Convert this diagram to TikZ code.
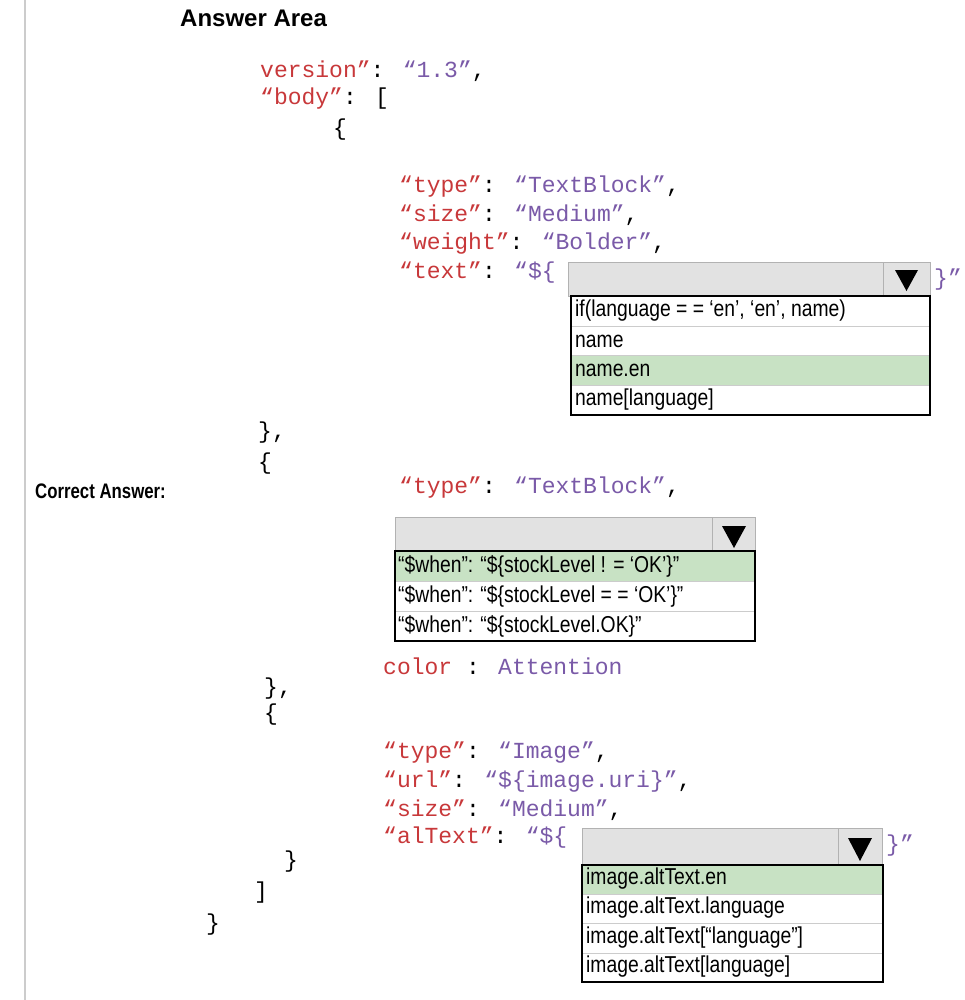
\documentclass[tikz,border=0pt]{standalone}
\usepackage{fontspec}
\setmainfont{Liberation Sans}
\newfontfamily\codefont{Liberation Mono}
\definecolor{kred}{HTML}{C8383A}
\definecolor{vpur}{HTML}{7A5AA8}
\definecolor{ddgray}{HTML}{E2E2E2}
\definecolor{selgreen}{HTML}{C8E2C4}
\begin{document}
\begin{tikzpicture}[x=1pt,y=-1pt,
  code/.style={anchor=west,inner sep=0pt,font=\codefont\fontsize{23}{23}\selectfont},
  opt/.style={anchor=west,inner sep=0pt,font=\fontsize{23}{23}\selectfont,xscale=0.84},
  ddbox/.style={draw=gray!60,fill=ddgray,line width=1pt},
  lst/.style={draw=black,line width=1.2pt},
  row/.style={draw=gray!40,line width=0.6pt}]
\useasboundingbox (0,0) rectangle (964,1000);
\fill[white] (0,0) rectangle (964,1000);
\draw[gray!40,line width=1.5pt] (25,0) -- (25,1000);
\node[anchor=west,inner sep=0pt,font=\fontsize{24}{24}\selectfont\bfseries] (title) at (180,18) {Answer Area};
\node[anchor=west,inner sep=0pt,font=\fontsize{21}{21}\selectfont\bfseries,xscale=0.8] (ca) at (35,491) {Correct Answer:};
% code
\newcommand\K[1]{\textcolor{kred}{#1}}
\newcommand\V[1]{\textcolor{vpur}{#1}}
\node[code] (l1) at (260,71) {\K{version”}: \V{“1.3”},};
\node[code] (l2) at (260,99) {\K{“body”}: [};
\node[code] (l3) at (333,130) {\{};
\node[code] (l4) at (399,187) {\K{“type”}: \V{“TextBlock”},};
\node[code] (l5) at (399,215) {\K{“size”}: \V{“Medium”},};
\node[code] (l6) at (399,244) {\K{“weight”}: \V{“Bolder”},};
\node[code] (l7) at (399,273) {\K{“text”}: \V{“\$\{}};
\node[code] (l7b) at (934,280) {\V{\}”}};
\node[code] (l8) at (258,433) {\},};
\node[code] (l9) at (258,464) {\{};
\node[code] (l10) at (399,488) {\K{“type”}: \V{“TextBlock”},};
\node[code] (l11) at (383,666) {\K{color} : \V{Attention}};
\node[code] (l12) at (264,689) {\},};
\node[code] (l13) at (264,715) {\{};
\node[code] (l14) at (383,753) {\K{“type”}: \V{“Image”},};
\node[code] (l15) at (383,782) {\K{“url”}: \V{“\$\{image.uri\}”},};
\node[code] (l16) at (383,810) {\K{“size”}: \V{“Medium”},};
\node[code] (l17) at (383,838) {\K{“alText”}: \V{“\$\{}};
\node[code] (l17b) at (886,846) {\V{\}”}};
\node[code] (l18) at (284,862) {\}};
\node[code] (l19) at (254,893) {]};
\node[code] (l20) at (206,925) {\}};
% dropdown 1
\draw[ddbox] (568,262) rectangle (930,296);
\draw[gray!60] (883,262) -- (883,296);
\fill (895,270) -- (918,270) -- (906.5,291) -- cycle;
\fill[selgreen] (571,355) rectangle (930,385);
\draw[row] (571,326) -- (930,326) (571,355) -- (930,355) (571,385) -- (930,385);
\draw[lst] (571,296) rectangle (930,415);
\node[opt] (o11) at (575,311) {if(language = = ‘en’, ‘en’, name)};
\node[opt] (o12) at (575,341) {name};
\node[opt] (o13) at (575,370) {name.en};
\node[opt] (o14) at (575,400) {name[language]};
% dropdown 2
\draw[ddbox] (395,517) rectangle (755,551);
\draw[gray!60] (712,517) -- (712,551);
\fill (722,526) -- (746,526) -- (734,548) -- cycle;
\fill[selgreen] (395,551) rectangle (755,581);
\draw[row] (395,581) -- (755,581) (395,611) -- (755,611);
\draw[lst] (395,551) rectangle (755,641);
\node[opt] (o21) at (398,566) {“\$when”: “\$\{stockLevel ! = ‘OK’\}”};
\node[opt] (o22) at (398,596) {“\$when”: “\$\{stockLevel = = ‘OK’\}”};
\node[opt] (o23) at (398,626) {“\$when”: “\$\{stockLevel.OK\}”};
% dropdown 3
\draw[ddbox] (582,828) rectangle (882,865);
\draw[gray!60] (838,828) -- (838,865);
\fill (848,838) -- (872,838) -- (860,861) -- cycle;
\fill[selgreen] (582,865) rectangle (883,894);
\draw[row] (582,894) -- (883,894) (582,923) -- (883,923) (582,953) -- (883,953);
\draw[lst] (582,865) rectangle (883,982);
\node[opt] (o31) at (586,879) {image.altText.en};
\node[opt] (o32) at (586,908) {image.altText.language};
\node[opt] (o33) at (586,938) {image.altText[“language”]};
\node[opt] (o34) at (586,967) {image.altText[language]};
\end{tikzpicture}
\end{document}
